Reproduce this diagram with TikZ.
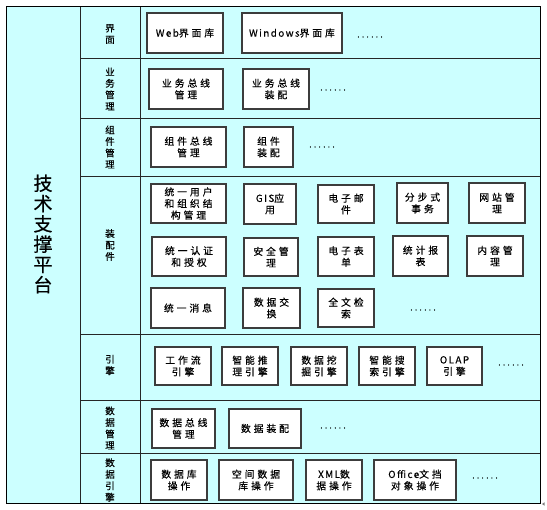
\documentclass[tikz,border=0pt]{standalone}
\usepackage{fontspec}
\setmainfont{Noto Sans CJK SC}[LetterSpace=30,FakeBold=0.4]
\newfontfamily\lat{Noto Sans CJK SC}[LetterSpace=15,FakeBold=0.4]
\definecolor{bgcyan}{RGB}{204,255,255}
\definecolor{boxline}{RGB}{60,60,60}
\newcommand\bx[6]{%
  \pgfmathsetmacro\bw{#4-#2}\pgfmathsetmacro\bh{#5-#3}%
  \node[box,minimum width=\bw pt,minimum height=\bh pt] (#1) at ({(#2+#4)/2},{(#3+#5)/2}) {#6};}
\begin{document}
\begin{tikzpicture}[x=1pt,y=-1pt,
  box/.style={draw=boxline,line width=1.1pt,fill=white,align=center,inner sep=0pt,
    font=\fontsize{9.8}{11.6}\selectfont},
  lab/.style={align=center,inner sep=0pt,font=\fontsize{9.5}{11.5}\selectfont},
  dots/.style={inner sep=0pt,font=\fontsize{8}{9}\selectfont},
  divline/.style={draw=black!85,line width=1pt}]
\useasboundingbox (0,0) rectangle (547,510);
\fill[bgcyan] (6,7) rectangle (540,504);
% grid lines
\draw[divline] (80,7) -- (80,504);
\draw[divline] (140,7) -- (140,504);
\foreach \yy in {59,119,177,335,401,454} \draw[divline] (80,\yy) -- (540,\yy);
\draw[draw=black,line width=1pt] (6,7) rectangle (540,504);
% left title
\node[align=center,inner sep=0pt,font=\fontsize{19}{20.3}\selectfont] (title) at (43,234) {技\\术\\支\\撑\\平\\台};
% category labels
\node[lab] (l1) at (110,34) {界\\面};
\node[lab] (l2) at (110,89) {业\\务\\管\\理};
\node[lab] (l3) at (110,147) {组\\件\\管\\理};
\node[lab] (l4) at (110,245) {装\\配\\件};
\node[lab] (l5) at (110,365) {引\\擎};
\node[lab] (l6) at (110,428) {数\\据\\管\\理};
\node[lab] (l7) at (110,480) {数\\据\\引\\擎};
% row 1
\bx{w1}{147}{13}{223}{53}{{\lat Web}界面库}
\bx{w2}{242}{13}{342}{53}{{\lat Windows}界面库}
\node[dots] (dw) at (370,37) {......};
% row 2
\bx{b1}{149}{69}{223}{109}{业务总线\\管理}
\bx{b2}{243}{69}{309}{109}{业务总线\\装配}
\node[dots] (db) at (333,90) {......};
% row 3
\bx{c1}{151}{127}{226}{167}{组件总线\\管理}
\bx{c2}{244}{127}{293}{167}{组件\\装配}
\node[dots] (dc) at (322,147) {......};
% row 4
\bx{a1}{151}{184}{226}{223}{统一用户\\和组织结\\构管理}
\bx{a2}{244}{184}{296}{224}{{\lat GIS}应\\用}
\bx{a3}{318}{185}{374}{223}{电子邮\\件}
\bx{a4}{397}{183}{448}{223}{分步式\\事务}
\bx{a5}{469}{183}{525}{223}{网站管\\理}
\bx{d1}{152}{237}{226}{276}{统一认证\\和授权}
\bx{d2}{244}{238}{298}{276}{安全管\\理}
\bx{d3}{318}{237}{374}{276}{电子表\\单}
\bx{d4}{393}{236}{448}{276}{统计报\\表}
\bx{d5}{467}{236}{523}{276}{内容管\\理}
\bx{e1}{151}{288}{225}{328}{统一消息}
\bx{e2}{243}{288}{300}{328}{数据交\\换}
\bx{e3}{318}{289}{374}{327}{全文检\\索}
\node[dots] (de) at (423,310) {......};
% row 5
\bx{f1}{155}{347}{211}{385}{工作流\\引擎}
\bx{f2}{222}{347}{278}{385}{智能推\\理引擎}
\bx{f3}{291}{347}{347}{385}{数据挖\\掘引擎}
\bx{f4}{359}{347}{415}{385}{智能搜\\索引擎}
\bx{f5}{427}{347}{482}{385}{{\lat OLAP}\\引擎}
\node[dots] (df) at (511,365) {......};
% row 6
\bx{g1}{152}{409}{215}{448}{数据总线\\管理}
\bx{g2}{229}{409}{301}{448}{数据装配}
\node[dots] (dg) at (333,428) {......};
% row 7
\bx{h1}{151}{460}{207}{500}{数据库\\操作}
\bx{h2}{219}{460}{293}{500}{空间数据\\库操作}
\bx{h3}{306}{460}{362}{500}{{\lat XML}数\\据操作}
\bx{h4}{374}{460}{456}{500}{{\lat Office}文挡\\对象操作}
\node[dots] (dh) at (485,478) {......};
% paragraph mark
\fill[gray] (542,504) -- (544.5,502.3) -- (544.5,505.7) -- cycle;
\end{tikzpicture}
\end{document}
